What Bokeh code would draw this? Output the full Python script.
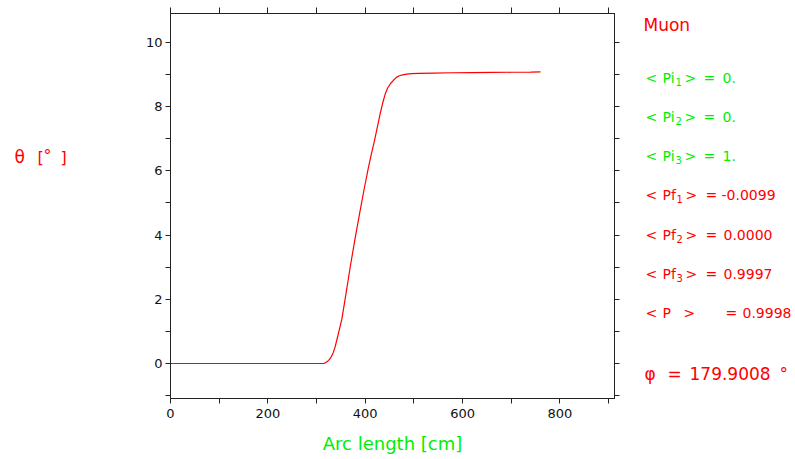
from bokeh.plotting import figure
from bokeh.models import LinearAxis, Range1d, FixedTicker, CustomLabelingPolicy
from bokeh.layouts import row
from bokeh.core.properties import value
from bokeh.embed import file_html
from bokeh.resources import INLINE

# ---- data ----
arc_length = [0, 310, 314, 318, 322, 326, 330, 334, 338, 344, 352, 360, 369, 379,
              389.5, 398, 406.5, 413, 419, 425, 430.5, 436, 441, 446, 452, 458,
              464, 470, 477, 485, 495, 510, 540, 580, 620, 660, 700, 740, 760]
theta = [0, 0, 0, 0.02, 0.06, 0.12, 0.2, 0.33, 0.51, 0.88, 1.38, 2.13, 2.99, 3.88,
         4.76, 5.45, 6.1, 6.55, 6.94, 7.37, 7.77, 8.12, 8.39, 8.58, 8.72, 8.82,
         8.91, 8.96, 8.99, 9.01, 9.025, 9.035, 9.045, 9.055, 9.06, 9.065, 9.07, 9.075, 9.08]

x_ticks = [0, 200, 400, 600, 800]
x_minor = [100, 300, 500, 700, 900]
y_ticks = [0, 2, 4, 6, 8, 10]
y_minor = [-1, 1, 3, 5, 7, 9]

particle = "Muon"
pi_values = ["0.", "0.", "1."]
pf_values = ["-0.0099", "0.0000", "0.9997"]
p_mean = "0.9998"
phi_value = "179.9008"
x_title = "Arc length [cm]"

RED = "#ff0000"
GREEN = "#00ee00"
FONT = "DejaVu Sans"
H = 459
TOP, FH, BOT = 13, 385, 61
LEFT_W = 130
MAIN_W = 40 + 444 + 8
RIGHT_W = 795 - LEFT_W - MAIN_W
RIGHT_X0 = LEFT_W + MAIN_W
DY = -5.5

# ---- main plot ----
p = figure(frame_width=444, frame_height=FH,
           x_range=Range1d(0, 912), y_range=Range1d(-1.09, 10.9),
           output_backend="svg", toolbar_location=None,
           min_border_left=40, min_border_right=8,
           min_border_top=TOP, min_border_bottom=BOT)
p.grid.visible = False
p.outline_line_color = "#222222"
p.outline_line_width = 1

no_labels = CustomLabelingPolicy(code="""
    for (const i of Array.from(indices)) { indices.unset(i) }
    return indices
""")

def style_axis(ax, ticks, minor, labels=True):
    ax.ticker = FixedTicker(ticks=ticks, minor_ticks=minor)
    ax.axis_line_color = "#222222"
    ax.major_tick_line_color = "#222222"
    ax.minor_tick_line_color = "#222222"
    ax.major_tick_in = 0
    ax.major_tick_out = 5
    ax.minor_tick_in = 0
    ax.minor_tick_out = 5
    if labels:
        ax.major_label_text_font = FONT
        ax.major_label_text_font_size = "13px"
        ax.major_label_text_color = "#111111"
    else:
        ax.major_label_policy = no_labels
        ax.major_label_text_font_size = "0px"
        ax.major_label_standoff = 0

style_axis(p.xaxis[0], x_ticks, x_minor)
p.xaxis[0].major_label_standoff = 5
p.xaxis[0].axis_label = x_title
p.xaxis[0].axis_label_text_font = FONT
p.xaxis[0].axis_label_text_font_style = "normal"
p.xaxis[0].axis_label_text_font_size = "18px"
p.xaxis[0].axis_label_text_color = GREEN
p.xaxis[0].axis_label_standoff = 12
style_axis(p.yaxis[0], y_ticks, y_minor)
p.yaxis[0].major_label_standoff = 3

top = LinearAxis()
style_axis(top, x_ticks, x_minor, labels=False)
top.major_tick_out = 6
top.minor_tick_out = 6
p.add_layout(top, "above")
right = LinearAxis()
style_axis(right, y_ticks, y_minor, labels=False)
p.add_layout(right, "right")

p.line(arc_length, theta, line_color=RED, line_width=1.2)

# ---- side panels for the texts (pixel coordinates, y downwards) ----
def side(width):
    f = figure(frame_width=width, frame_height=FH,
               x_range=Range1d(0, width), y_range=Range1d(TOP + FH, TOP),
               output_backend="svg", toolbar_location=None,
               x_axis_type=None, y_axis_type=None,
               min_border_left=0, min_border_right=0,
               min_border_top=TOP, min_border_bottom=BOT)
    f.grid.visible = False
    f.outline_line_color = None
    return f

left_fig = side(LEFT_W)
right_fig = side(RIGHT_W)

def put(f, x0, text, cx, cy, size, color, align="left"):
    f.text(x=[cx - x0], y=[cy + DY], text=[text], text_font=value(FONT),
           text_font_size=value(f"{size}px"), text_color=color,
           text_align=align, text_baseline="alphabetic")

def L(text, cx, cy, size, color):
    put(left_fig, 0, text, cx, cy, size, color)

def R(text, cx, cy, size, color):
    put(right_fig, RIGHT_X0, text, cx, cy, size, color)

# y title
L("θ", 14, 161.5, 17, RED)
L("[", 37, 162, 16, RED)
L("°", 43, 160, 16, RED)
L("]", 60, 162, 16, RED)

# particle
R(particle, 643, 29.5, 17, RED)

base = [82.8, 121.8, 161.0, 200.3, 239.7, 279.2, 318.3]
for i, v in enumerate(pi_values):
    y = base[i]
    R("<", 645, y, 14, GREEN)
    R("Pi", 662, y, 14, GREEN)
    R(str(i + 1), 675, y + 4, 10, GREEN)
    R(">", 684, y, 14, GREEN)
    R("=", 703, y, 14, GREEN)
    R(v, 722, y, 14, GREEN)

for i, v in enumerate(pf_values):
    y = base[3 + i]
    R("<", 645, y, 14, RED)
    R("Pf", 662, y, 14, RED)
    R(str(i + 1), 676, y + 4, 10, RED)
    R(">", 685, y, 14, RED)
    R("=", 705, y, 14, RED)
    R(v, 721 if v.startswith("-") else 723, y, 14, RED)

y = base[6]
R("<", 645, y, 14, RED)
R("P", 662, y, 14, RED)
R(">", 683, y, 14, RED)
R("=", 725, y, 14, RED)
R(p_mean, 742, y, 14, RED)

R("φ", 644, 378.5, 17, RED)
R("=", 667, 378.5, 17, RED)
R(phi_value, 689, 378.5, 17, RED)
R("°", 779, 378.5, 17, RED)

layout = row(left_fig, p, right_fig, spacing=0)
open("out.html", "w").write(file_html(layout, INLINE))
